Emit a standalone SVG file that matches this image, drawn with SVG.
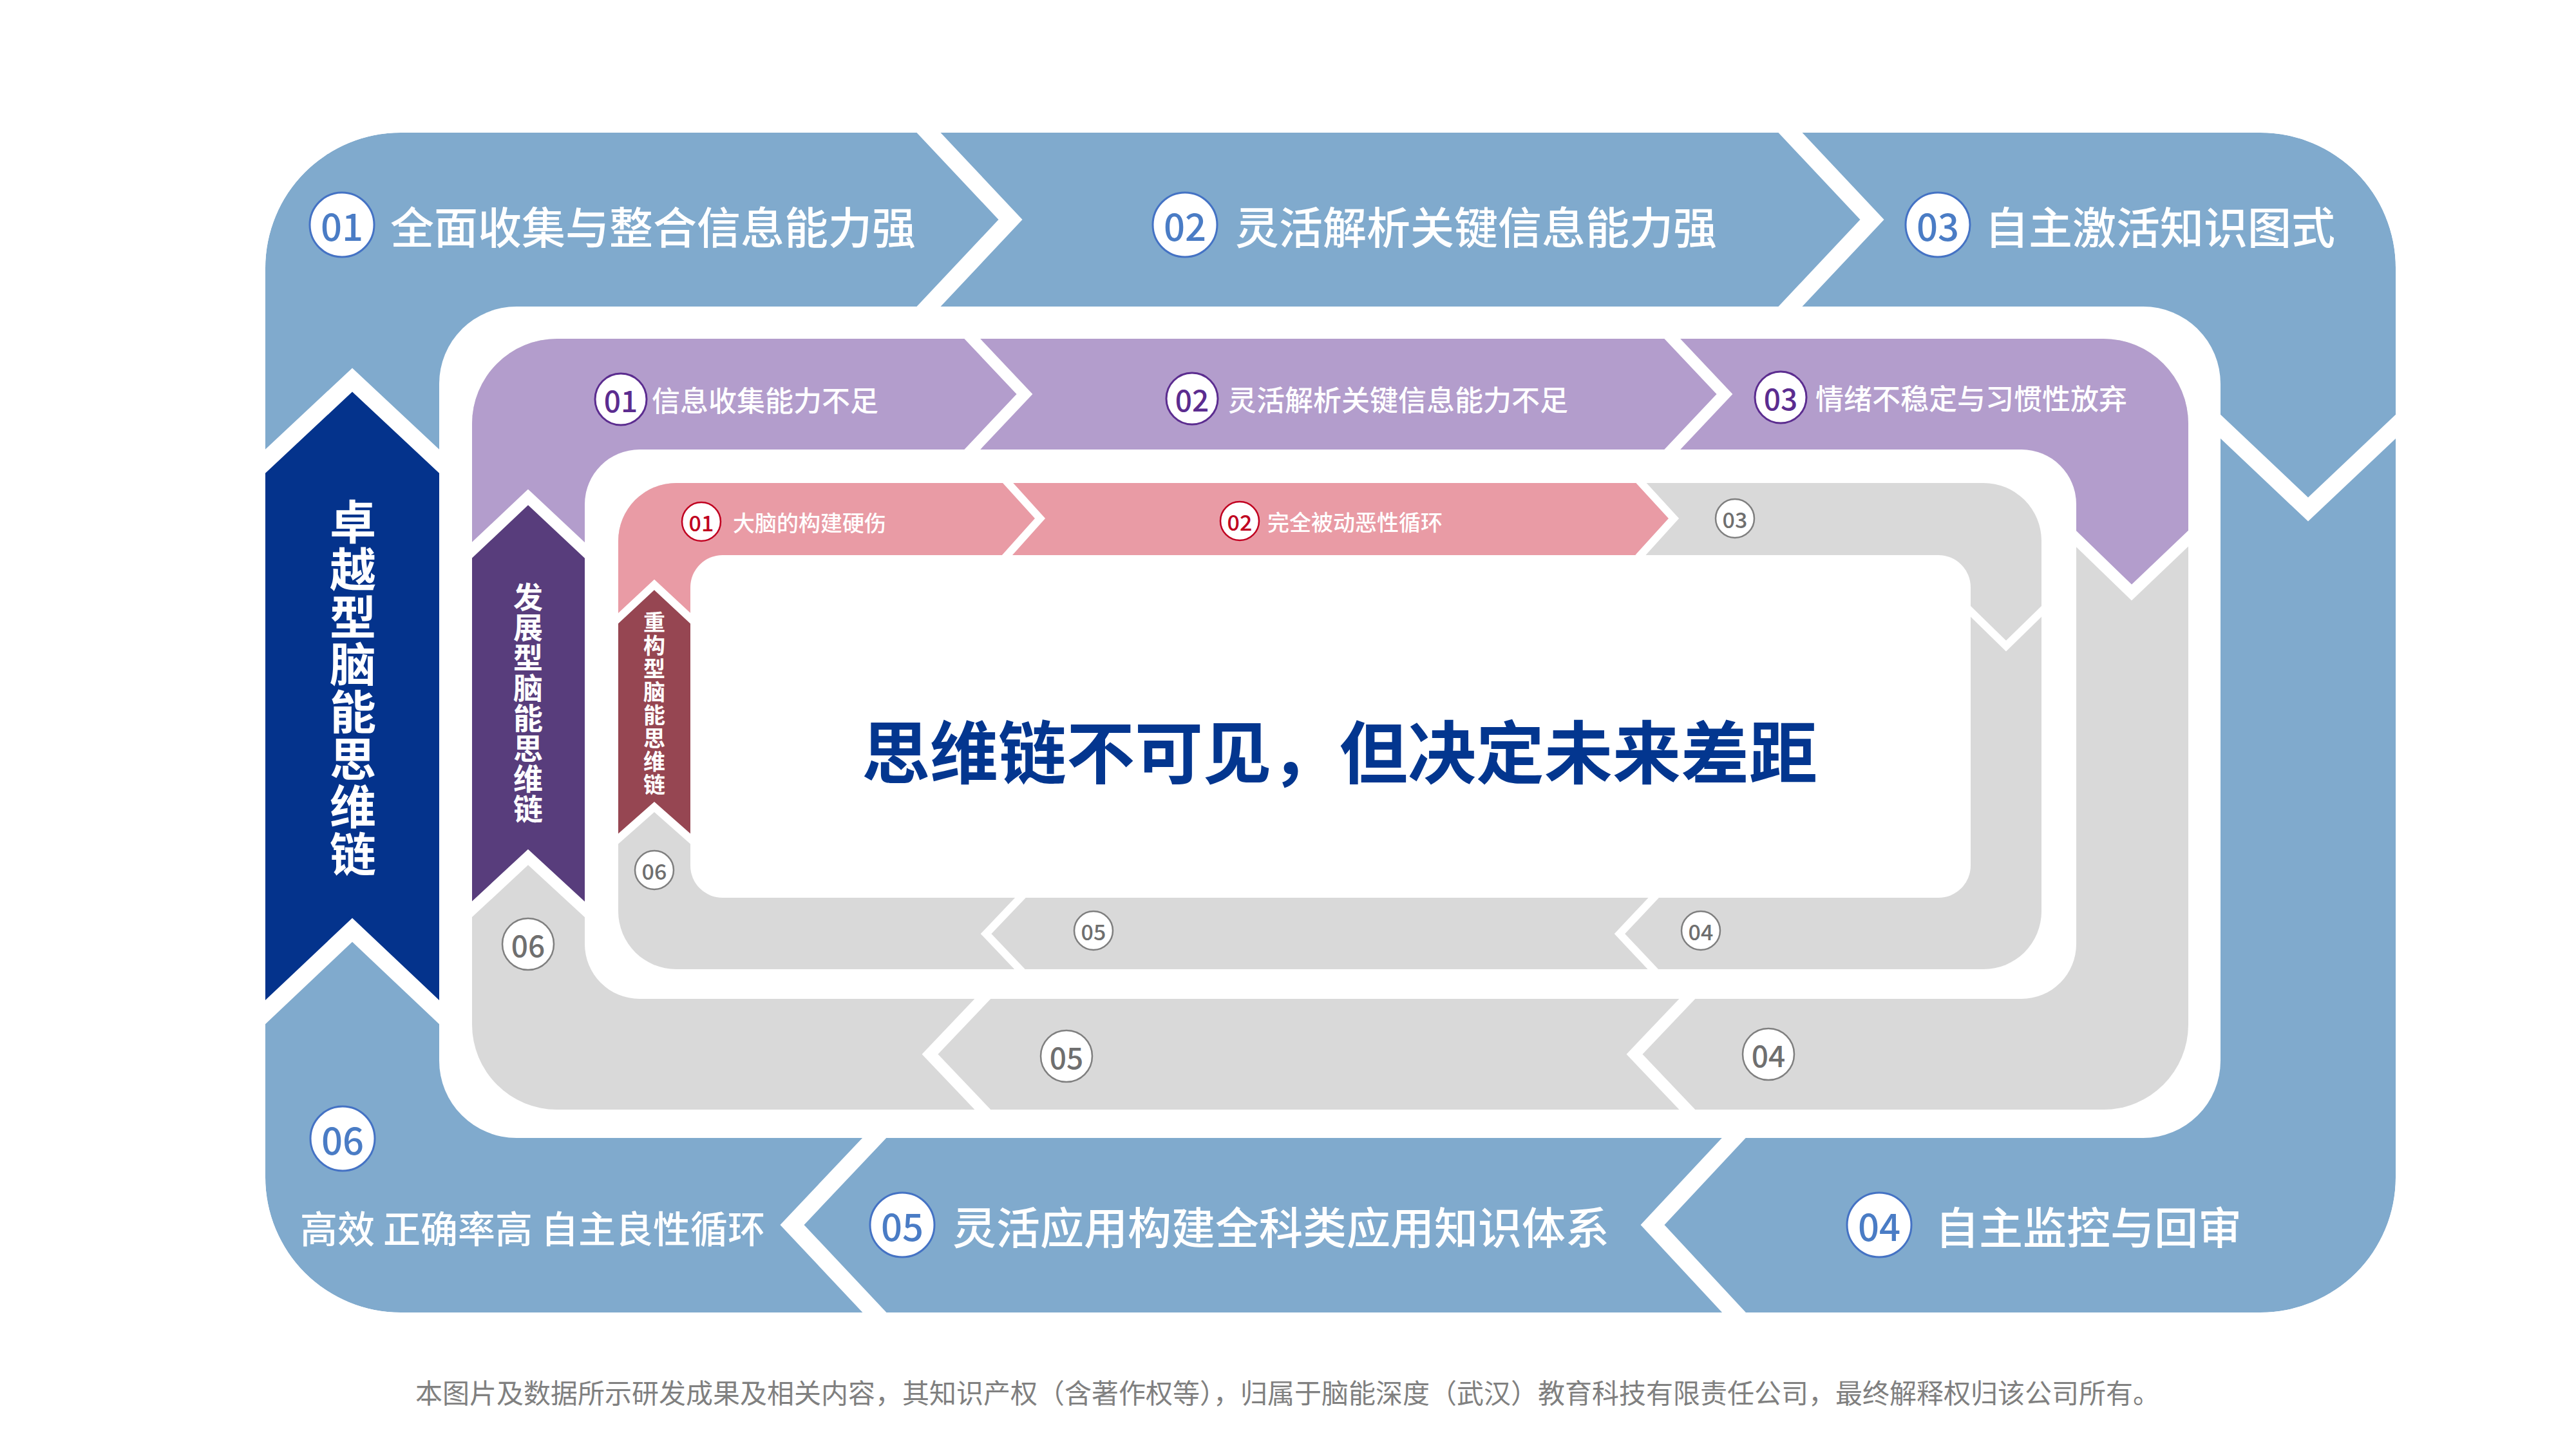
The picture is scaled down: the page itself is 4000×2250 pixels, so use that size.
<svg xmlns="http://www.w3.org/2000/svg" width="4000" height="2250" viewBox="0 0 4000 2250">
<defs>
<style>
.t{font-family:"Noto Sans CJK SC","Noto Sans",sans-serif;}
.cut{fill:none;stroke:#fff;stroke-linejoin:miter;stroke-miterlimit:10;}
.gap{fill:#fff;}
.lab1{font-size:68px;font-weight:500;fill:#fff;dominant-baseline:central;}
.lab2{font-size:44px;font-weight:500;fill:#fff;dominant-baseline:central;}
.lab3{font-size:34px;font-weight:500;fill:#fff;dominant-baseline:central;}
.num{text-anchor:middle;dominant-baseline:central;font-weight:500;}
.c1{fill:#fff;stroke:#4472C4;stroke-width:3;}
.n1{fill:#4A7CC5;font-size:58px;}
.c2{fill:#fff;stroke:#5B2C8F;stroke-width:3;}
.n2{fill:#5B2C8F;font-size:46px;}
.c3{fill:#fff;stroke:#C00020;stroke-width:2.5;}
.n3{fill:#C00020;font-size:34px;}
.cg{fill:#fff;stroke:#7F7F7F;stroke-width:2.5;}
.ng{fill:#6F6F6F;}
.vt{fill:#fff;font-weight:bold;writing-mode:vertical-rl;text-orientation:upright;}
</style>
<clipPath id="clip1"><rect x="412" y="206" width="3308" height="1832" rx="210"/></clipPath>
<clipPath id="clip2"><rect x="733" y="526" width="2665" height="1197" rx="132"/></clipPath>
<clipPath id="clip3"><rect x="960" y="750" width="2210" height="755" rx="90"/></clipPath>
</defs>
<rect width="4000" height="2250" fill="#fff"/>

<g id="ring-outer" clip-path="url(#clip1)">
<rect x="412" y="206" width="3308" height="1832" rx="210" fill="#80AACD"/>
<path d="M362,763 L547,590 L732,763 L732,1619 L547,1444 L362,1619 Z" fill="#04338C"/>
<g id="connectors-outer" class="cut" stroke-width="27">
<polyline points="1395,156 1569,341 1395,526"/>
<polyline points="2733,156 2907,341 2733,526"/>
<polyline points="3398,615 3584,791 3770,615"/>
<polyline points="2739,1717 2566,1902 2739,2088"/>
<polyline points="1405,1717 1230,1902 1405,2088"/>
<polyline points="362,763 547,590 732,763"/>
<polyline points="362,1619 547,1444 732,1619"/>
</g>
</g>
<rect class="gap" x="682" y="476" width="2766" height="1291" rx="120"/>

<g id="ring-middle" clip-path="url(#clip2)">
<rect x="733" y="526" width="2665" height="1197" fill="#D9D9D9"/>
<path d="M693,892 L820,772 L948,892 L948,860 L3184,860 L3184,798 L3310,920 L3438,798 L3500,798 L3500,400 L600,400 L600,892 Z" fill="#B39DCC"/>
<path d="M693,892 L820,772 L948,892 L948,1449 L820,1331 L693,1449 Z" fill="#583D7C"/>
<g id="connectors-middle" class="cut" stroke-width="18">
<polyline points="1472,486 1591,612 1472,738"/>
<polyline points="2559,486 2678,612 2559,738"/>
<polyline points="3184,798 3310,920 3438,798"/>
<polyline points="2658,1511 2538,1637 2658,1763"/>
<polyline points="1564,1511 1444,1637 1564,1763"/>
<polyline points="693,892 820,772 948,892"/>
<polyline points="693,1449 820,1331 948,1449"/>
</g>
</g>
<rect class="gap" x="908" y="698" width="2316" height="853" rx="85"/>

<g id="ring-inner" clip-path="url(#clip3)">
<rect x="960" y="750" width="2210" height="755" fill="#D9D9D9"/>
<path d="M930,988 L1016,908 L1102,988 L1130,988 L1130,880 L2531,880 L2599,805 L2521,720 L880,720 L880,988 Z" fill="#E99BA5"/>
<path d="M930,988 L1016,908 L1102,988 L1102,1329 L1016,1253 L930,1329 Z" fill="#964652"/>
<g id="connectors-inner" class="cut" stroke-width="12">
<polyline points="1538,720 1615,805 1538,891"/>
<polyline points="2521,720 2599,805 2521,891"/>
<polyline points="3030,920 3115,1003 3200,920"/>
<polyline points="2596,1364 2515,1450 2596,1536"/>
<polyline points="1613,1364 1531,1450 1613,1536"/>
<polyline points="930,988 1016,908 1102,988"/>
<polyline points="930,1329 1016,1253 1102,1329"/>
</g>
</g>
<rect class="gap" x="1072" y="862" width="1988" height="532" rx="50"/>

<g class="t">
<g id="outer-01"><circle class="c1" cx="531" cy="349" r="50"/><text class="num n1" x="531" y="349">01</text><text class="lab1" x="606" y="349">全面收集与整合信息能力强</text></g>
<g id="outer-02"><circle class="c1" cx="1840" cy="349" r="50"/><text class="num n1" x="1840" y="349">02</text><text class="lab1" x="1918" y="349">灵活解析关键信息能力强</text></g>
<g id="outer-03"><circle class="c1" cx="3009" cy="349" r="50"/><text class="num n1" x="3009" y="349">03</text><text class="lab1" x="3082" y="349">自主激活知识图式</text></g>
<g id="outer-04"><circle class="c1" cx="2918" cy="1902" r="50"/><text class="num n1" x="2918" y="1902">04</text><text class="lab1" x="3005" y="1902">自主监控与回审</text></g>
<g id="outer-05"><circle class="c1" cx="1401" cy="1902" r="50"/><text class="num n1" x="1401" y="1902">05</text><text class="lab1" x="1479" y="1902">灵活应用构建全科类应用知识体系</text></g>
<g id="outer-06"><circle class="c1" cx="532" cy="1768" r="50"/><text class="num n1" x="532" y="1768">06</text><text class="lab1" x="466" y="1905" style="font-size:58px">高效 正确率高 自主良性循环</text></g>
<g id="outer-title"><text class="vt" x="548" y="774" style="font-size:72px;letter-spacing:1.6px">卓越型脑能思维链</text></g>

<g id="middle-01"><circle class="c2" cx="964" cy="620" r="40"/><text class="num n2" x="964" y="620">01</text><text class="lab2" x="1012" y="620">信息收集能力不足</text></g>
<g id="middle-02"><circle class="c2" cx="1851" cy="619" r="40"/><text class="num n2" x="1851" y="619">02</text><text class="lab2" x="1907" y="619">灵活解析关键信息能力不足</text></g>
<g id="middle-03"><circle class="c2" cx="2765" cy="617" r="40"/><text class="num n2" x="2765" y="617">03</text><text class="lab2" x="2819" y="617">情绪不稳定与习惯性放弃</text></g>
<g id="middle-04"><circle class="cg" cx="2746" cy="1637" r="40"/><text class="num ng" x="2746" y="1637" style="font-size:46px">04</text></g>
<g id="middle-05"><circle class="cg" cx="1656" cy="1640" r="40"/><text class="num ng" x="1656" y="1640" style="font-size:46px">05</text></g>
<g id="middle-06"><circle class="cg" cx="820" cy="1466" r="40"/><text class="num ng" x="820" y="1466" style="font-size:46px">06</text></g>
<g id="middle-title"><text class="vt" x="820" y="904" style="font-size:46px;letter-spacing:1px">发展型脑能思维链</text></g>

<g id="inner-01"><circle class="c3" cx="1089" cy="810" r="30"/><text class="num n3" x="1089" y="810">01</text><text class="lab3" x="1138" y="810">大脑的构建硬伤</text></g>
<g id="inner-02"><circle class="c3" cx="1925" cy="809" r="30"/><text class="num n3" x="1925" y="809">02</text><text class="lab3" x="1968" y="809">完全被动恶性循环</text></g>
<g id="inner-03"><circle class="cg" cx="2694" cy="805" r="30"/><text class="num ng" x="2694" y="805" style="font-size:34px">03</text></g>
<g id="inner-04"><circle class="cg" cx="2641" cy="1445" r="30"/><text class="num ng" x="2641" y="1445" style="font-size:34px">04</text></g>
<g id="inner-05"><circle class="cg" cx="1698" cy="1445" r="30"/><text class="num ng" x="1698" y="1445" style="font-size:34px">05</text></g>
<g id="inner-06"><circle class="cg" cx="1016" cy="1351" r="30"/><text class="num ng" x="1016" y="1351" style="font-size:34px">06</text></g>
<g id="inner-title"><text class="vt" x="1016" y="949" style="font-size:34px;letter-spacing:2px">重构型脑能思维链</text></g>

<g id="center"><text x="2080" y="1162" style="font-size:106px;font-weight:bold;fill:#03368F;text-anchor:middle;dominant-baseline:central">思维链不可见，但决定未来差距</text></g>

<g id="footer"><text x="645" y="2160" style="font-size:42px;fill:#808080;dominant-baseline:central">本图片及数据所示研发成果及相关内容，其知识产权（含著作权等），归属于脑能深度（武汉）教育科技有限责任公司，最终解释权归该公司所有。</text></g>
</g>
</svg>
